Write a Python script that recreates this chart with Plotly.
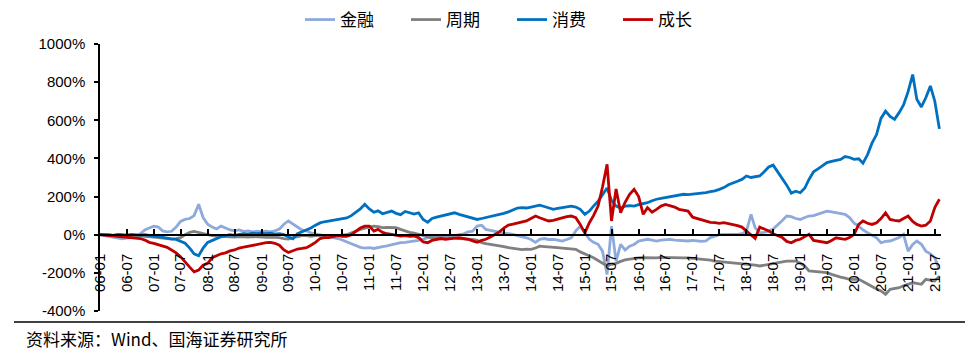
import pandas as pd
import plotly.graph_objects as go

# ---------------- data (monthly readings, 2006-01 .. 2021-08) ----------------
START_MONTH = "2006-01-01"

JINRONG = [  # 金融
    0, -5, -10, -15, -20, -22, -18, -15, -12, 5, 25, 35,
    45, 40, 20, 15, 18, 40, 70, 80, 85, 100, 160, 90,
    55, 40, 30, 45, 35, 25, 20, 25, 18, 20, 15, 18,
    15, 18, 15, 20, 30, 55, 72, 55, 40, 25, 20, 10,
    5, 0, -5, -8, -12, -20, -28, -38, -50, -60, -66, -70,
    -68, -72, -66, -62, -58, -52, -48, -42, -40, -38, -35, -30,
    -25, -15, -12, -14, -12, -10, -5, -3, 0, 5, 15, 19,
    45, 50, 28, 22, 19, 12, 8, 5, 2, -5, -10, -16,
    -25, -40, -24, -20, -25, -24, -28, -33, -25, -16, 20, 45,
    10, -24, -40, -50, -86, -208, 45, -138, -51, -80, -60, -51,
    -33, -30, -24, -28, -33, -28, -25, -24, -28, -30, -33, -33,
    -30, -33, -35, -33, -15, -7, 0, 2, 0, 2, 2, 5,
    19, 107, 36, 10, 12, 19, 30, 50, 75, 98, 95, 85,
    80, 90, 98, 100, 107, 115, 124, 120, 115, 112, 107, 90,
    60, 45, 25, 10, -5, -16, -42, -35, -33, -25, -15, 2,
    -86, -51, -33, -50, -86, -100, -121, -182,
]

ZHOUQI = [  # 周期
    0, -2, 0, -3, -2, -4, -3, -5, -5, -6, -8, -10,
    -12, -15, -18, -20, -23, -20, -15, 0, 12, 17, 10, 5,
    0, -5, -8, -10, -10, -12, -12, -10, -12, -12, -10, -12,
    -12, -14, -12, -12, -15, -20, -23, -15, -8, -5, -5, -8,
    -5, -5, -3, -5, -5, -3, -2, 0, 10, 20, 28, 35,
    40, 45, 42, 37, 38, 37, 37, 28, 19, 12, 8, 2,
    -5, -10, -16, -16, -16, -17, -16, -18, -20, -22, -24, -24,
    -30, -42, -47, -51, -51, -58, -62, -68, -72, -77, -78, -76,
    -77, -70, -60, -62, -65, -66, -68, -70, -72, -75, -77, -90,
    -100, -112, -121, -135, -150, -164, -155, -150, -140, -132, -128, -124,
    -121, -120, -121, -122, -121, -119, -120, -121, -122, -121, -121, -121,
    -123, -125, -127, -129, -133, -138, -140, -143, -145, -147, -150, -152,
    -155, -158, -160, -164, -160, -158, -155, -150, -143, -138, -138, -138,
    -150, -165, -190, -192, -195, -197, -199, -208, -217, -222, -228, -234,
    -234, -234, -245, -260, -270, -285, -295, -313, -286, -282, -278, -268,
    -260, -252, -255, -260, -234, -240, -243, -217,
]

XIAOFEI = [  # 消费
    0, 2, 0, -3, 2, 0, -2, 2, 0, -2, 0, -5,
    -8, -10, -15, -18, -22, -25, -35, -45, -70, -100, -110, -70,
    -40, -30, -18, -10, -5, 0, -3, 2, 5, 3, 8, 6,
    10, 5, 8, 3, 5, 0, -10, -22, 5, 15, 22, 35,
    50, 62, 68, 72, 78, 82, 85, 88, 100, 115, 135, 160,
    135, 118, 125, 110, 118, 124, 112, 105, 122, 115, 108, 115,
    80, 65, 85, 92, 98, 105, 112, 115, 107, 100, 95, 85,
    80, 85, 90, 92, 98, 105, 112, 120, 130, 140, 142, 140,
    145, 150, 155, 148, 140, 133, 138, 142, 148, 150, 145, 133,
    107, 124, 150, 175, 210, 245, 180, 150, 140, 150, 152, 150,
    158, 162, 168, 178, 186, 190, 194, 200, 205, 210, 212, 210,
    212, 215, 218, 221, 226, 230, 238, 247, 262, 273, 280, 290,
    308, 300, 302, 308, 330, 355, 365, 330, 290, 260, 218, 228,
    220, 245, 290, 330, 345, 360, 378, 385, 390, 395, 410, 405,
    395, 398, 375, 420, 480, 525, 610, 648, 620, 605, 640, 680,
    750, 840, 710, 670, 718, 780, 700, 555,
]

CHENGZHANG = [  # 成长
    0, -2, -3, -5, -8, -10, -12, -15, -16, -20, -28, -40,
    -45, -52, -58, -66, -80, -95, -115, -145, -170, -195, -185, -160,
    -150, -120, -110, -100, -95, -85, -80, -70, -65, -60, -55, -50,
    -45, -42, -40, -45, -55, -80, -93, -85, -75, -72, -68, -55,
    -40, -20, -15, -15, -12, -5, -8, -8, 0, 15, 35, 45,
    45, 19, 28, 12, 5, 2, -2, -7, -5, -8, -7, -15,
    -38, -42, -30, -24, -20, -24, -20, -18, -16, -20, -24, -32,
    -40, -30, -24, -12, 0, 15, 35, 50, 55, 60, 65, 72,
    85, 98, 89, 80, 72, 75, 80, 88, 95, 98, 89, 54,
    10, 63, 100, 150, 250, 369, 72, 240, 115, 170, 212, 238,
    200, 107, 142, 118, 133, 150, 159, 152, 145, 133, 128, 124,
    92, 85, 80, 72, 65, 63, 60, 63, 58, 54, 48, 40,
    19, 0, -20, 40, 30, 20, 5, -5, -15, -35, -42, -30,
    -24, -10, 2, -30, -35, -40, -42, -30, -16, -20, -24, -15,
    2, 54, 72, 60, 54, 63, 85, 115, 80, 75, 72, 85,
    98, 70, 54, 45, 50, 72, 142, 186,
]

SERIES_NAMES = ["金融", "周期", "消费", "成长"]
SERIES_COLORS = ["#8EA9DB", "#808080", "#0070C0", "#C00000"]

TICK_LABELS = [
    "06-01", "06-07", "07-01", "07-07", "08-01", "08-07", "09-01", "09-07",
    "10-01", "10-07", "11-01", "11-07", "12-01", "12-07", "13-01", "13-07",
    "14-01", "14-07", "15-01", "15-07", "16-01", "16-07", "17-01", "17-07",
    "18-01", "18-07", "19-01", "19-07", "20-01", "20-07", "21-01", "21-07",
]
Y_TICKS = [-400, -200, 0, 200, 400, 600, 800, 1000]
Y_TICK_LABELS = ["-400%", "-200%", "0%", "200%", "400%", "600%", "800%", "1000%"]
SOURCE_TEXT = "资料来源：Wind、国海证券研究所"

# ---------------- figure ----------------
W, H = 979, 363
L, R, T, B = 100, 38, 44, 52
PW, PH = W - L - R, H - T - B


def px_x(p):
    return (p - L) / PW


def px_y(p):
    return (H - B - p) / PH


dates = pd.date_range(START_MONTH, periods=len(XIAOFEI), freq="MS")
tick_dates = pd.date_range(START_MONTH, periods=len(TICK_LABELS), freq="6MS")

fig = go.Figure()
for name, color, vals in zip(SERIES_NAMES, SERIES_COLORS,
                             [JINRONG, ZHOUQI, XIAOFEI, CHENGZHANG]):
    fig.add_trace(go.Scatter(x=dates, y=vals, mode="lines", name=name,
                             line=dict(color=color, width=2.8)))

y_min, y_max = Y_TICKS[0], Y_TICKS[-1]
tick_font = dict(family="Liberation Sans, Arial, sans-serif", size=15, color="#000000")

fig.update_layout(
    width=W, height=H,
    margin=dict(l=L, r=R, t=T, b=B, autoexpand=False),
    paper_bgcolor="white", plot_bgcolor="white",
    showlegend=True,
    legend=dict(orientation="h", x=px_x(300), xanchor="left",
                y=px_y(20), yanchor="middle",
                font=dict(family="Noto Sans CJK SC", size=17, color="#000000"),
                entrywidth=61, entrywidthmode="pixels",
                bgcolor="rgba(0,0,0,0)"),
    xaxis=dict(type="date", range=["2006-01-01", "2021-08-12"],
               anchor="free", position=(0 - y_min) / (y_max - y_min),
               tickvals=tick_dates, ticktext=TICK_LABELS, tickangle=-90,
               ticks="inside", ticklen=5, tickwidth=1.5, tickcolor="#000000",
               showline=True, linecolor="#000000", linewidth=2,
               showgrid=False, zeroline=False, tickfont=tick_font,
               ticklabelstandoff=12),
    yaxis=dict(range=[y_min, y_max], tickvals=Y_TICKS, ticktext=Y_TICK_LABELS,
               ticks="outside", ticklen=4, tickwidth=1.5, tickcolor="#000000",
               showline=True, linecolor="#000000", linewidth=1.5,
               showgrid=False, zeroline=False, tickfont=tick_font,
               ticklabelstandoff=6),
    shapes=[dict(type="line", xref="paper", yref="paper",
                 x0=px_x(14), x1=px_x(965), y0=px_y(322), y1=px_y(322),
                 line=dict(color="#000000", width=1.5))],
    annotations=[dict(text=SOURCE_TEXT, xref="paper", yref="paper",
                      x=px_x(24), y=px_y(338), xanchor="left", yanchor="middle",
                      showarrow=False,
                      font=dict(family="Noto Sans CJK SC", size=17, color="#000000"))],
)

fig.write_html("out.html", config={"displayModeBar": False},
               post_script="document.body.style.margin='0';document.body.style.padding='0';")
